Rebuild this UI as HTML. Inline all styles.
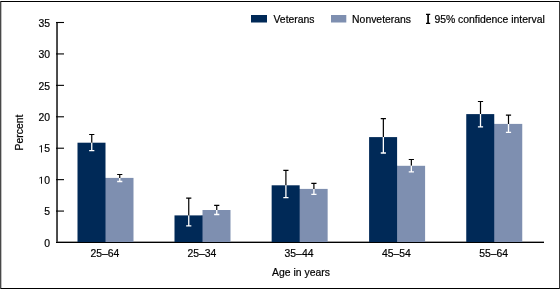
<!DOCTYPE html>
<html><head><meta charset="utf-8"><style>
html,body{margin:0;padding:0;background:#fff;width:560px;height:290px;overflow:hidden}
svg{display:block;will-change:transform}
text{font-family:"Liberation Sans",sans-serif;font-size:10.4px;fill:#000;stroke:#000;stroke-width:0.2px}
</style></head><body>
<svg width="560" height="290" viewBox="0 0 560 290">
<rect x="0" y="1" width="560" height="1" fill="#000" shape-rendering="crispEdges"/>
<rect x="0" y="288" width="560" height="1" fill="#000" shape-rendering="crispEdges"/>
<rect x="0" y="1" width="1" height="288" fill="#484848" shape-rendering="crispEdges"/>
<rect x="1" y="2" width="1" height="286" fill="#c0c0c0" shape-rendering="crispEdges"/>
<rect x="559" y="1" width="1" height="288" fill="#383838" shape-rendering="crispEdges"/>
<rect x="56" y="241" width="488" height="1" fill="#a0a0a0" shape-rendering="crispEdges"/>
<rect x="105.50" y="177.90" width="28.0" height="64.10" fill="#7e8fb0"/>
<rect x="104.50" y="177.90" width="1.5" height="64.10" fill="#7e8fb0"/>
<rect x="77.50" y="142.70" width="28.0" height="99.30" fill="#002957"/>
<rect x="202.50" y="210.00" width="28.0" height="32.00" fill="#7e8fb0"/>
<rect x="201.50" y="215.40" width="1.5" height="26.60" fill="#7e8fb0"/>
<rect x="174.50" y="215.40" width="28.0" height="26.60" fill="#002957"/>
<rect x="299.65" y="188.90" width="28.0" height="53.10" fill="#7e8fb0"/>
<rect x="298.65" y="188.90" width="1.5" height="53.10" fill="#7e8fb0"/>
<rect x="271.65" y="185.30" width="28.0" height="56.70" fill="#002957"/>
<rect x="397.10" y="165.80" width="28.0" height="76.20" fill="#7e8fb0"/>
<rect x="396.10" y="165.80" width="1.5" height="76.20" fill="#7e8fb0"/>
<rect x="369.10" y="137.10" width="28.0" height="104.90" fill="#002957"/>
<rect x="494.25" y="123.90" width="28.0" height="118.10" fill="#7e8fb0"/>
<rect x="493.25" y="123.90" width="1.5" height="118.10" fill="#7e8fb0"/>
<rect x="466.25" y="114.10" width="28.0" height="127.90" fill="#002957"/>
<path d="M91.75 134.50V142.70M89.15 134.50H94.35" stroke="#000" stroke-width="1.2" fill="none"/>
<path d="M91.75 142.70V150.60M89.15 150.60H94.35" stroke="#fff" stroke-width="1.3" fill="none"/>
<path d="M119.75 174.50V177.90M117.15 174.50H122.35" stroke="#000" stroke-width="1.2" fill="none"/>
<path d="M119.75 177.90V181.50M117.15 181.50H122.35" stroke="#fff" stroke-width="1.3" fill="none"/>
<path d="M188.75 198.20V215.40M186.15 198.20H191.35" stroke="#000" stroke-width="1.2" fill="none"/>
<path d="M188.75 215.40V225.90M186.15 225.90H191.35" stroke="#fff" stroke-width="1.3" fill="none"/>
<path d="M216.75 205.40V210.00M214.15 205.40H219.35" stroke="#000" stroke-width="1.2" fill="none"/>
<path d="M216.75 210.00V214.50M214.15 214.50H219.35" stroke="#fff" stroke-width="1.3" fill="none"/>
<path d="M285.90 170.40V185.30M283.30 170.40H288.50" stroke="#000" stroke-width="1.2" fill="none"/>
<path d="M285.90 185.30V197.60M283.30 197.60H288.50" stroke="#fff" stroke-width="1.3" fill="none"/>
<path d="M313.90 183.40V188.90M311.30 183.40H316.50" stroke="#000" stroke-width="1.2" fill="none"/>
<path d="M313.90 188.90V194.30M311.30 194.30H316.50" stroke="#fff" stroke-width="1.3" fill="none"/>
<path d="M383.35 118.60V137.10M380.75 118.60H385.95" stroke="#000" stroke-width="1.2" fill="none"/>
<path d="M383.35 137.10V153.00M380.75 153.00H385.95" stroke="#fff" stroke-width="1.3" fill="none"/>
<path d="M411.35 159.50V165.80M408.75 159.50H413.95" stroke="#000" stroke-width="1.2" fill="none"/>
<path d="M411.35 165.80V171.90M408.75 171.90H413.95" stroke="#fff" stroke-width="1.3" fill="none"/>
<path d="M480.50 101.50V114.10M477.90 101.50H483.10" stroke="#000" stroke-width="1.2" fill="none"/>
<path d="M480.50 114.10V126.80M477.90 126.80H483.10" stroke="#fff" stroke-width="1.3" fill="none"/>
<path d="M508.50 115.20V123.90M505.90 115.20H511.10" stroke="#000" stroke-width="1.2" fill="none"/>
<path d="M508.50 123.90V132.30M505.90 132.30H511.10" stroke="#fff" stroke-width="1.3" fill="none"/>
<rect x="56" y="22" width="1" height="221" fill="#505050" shape-rendering="crispEdges"/>
<rect x="57" y="22" width="1" height="221" fill="#484848" shape-rendering="crispEdges"/>
<rect x="56" y="242" width="488" height="1" fill="#000" shape-rendering="crispEdges"/>
<g transform="translate(50,246.70)"><text x="0" y="0" text-anchor="end">0</text></g>
<line x1="56" y1="211.071" x2="64" y2="211.071" stroke="#000" stroke-width="1.1"/>
<g transform="translate(50,215.27)"><text x="0" y="0" text-anchor="end">5</text></g>
<line x1="56" y1="179.643" x2="64" y2="179.643" stroke="#000" stroke-width="1.1"/>
<g transform="translate(50,183.84)"><path transform="translate(-11.568,0) scale(0.005078,-0.005078)" d="M515 0V1237L197 1010V1180L530 1409H696V0Z" fill="#000"/><text x="0" y="0" text-anchor="end">0</text></g>
<line x1="56" y1="148.214" x2="64" y2="148.214" stroke="#000" stroke-width="1.1"/>
<g transform="translate(50,152.41)"><path transform="translate(-11.568,0) scale(0.005078,-0.005078)" d="M515 0V1237L197 1010V1180L530 1409H696V0Z" fill="#000"/><text x="0" y="0" text-anchor="end">5</text></g>
<line x1="56" y1="116.786" x2="64" y2="116.786" stroke="#000" stroke-width="1.1"/>
<g transform="translate(50,120.99)"><text x="0" y="0" text-anchor="end">20</text></g>
<line x1="56" y1="85.357" x2="64" y2="85.357" stroke="#000" stroke-width="1.1"/>
<g transform="translate(50,89.56)"><text x="0" y="0" text-anchor="end">25</text></g>
<line x1="56" y1="53.929" x2="64" y2="53.929" stroke="#000" stroke-width="1.1"/>
<g transform="translate(50,58.13)"><text x="0" y="0" text-anchor="end">30</text></g>
<line x1="56" y1="22.500" x2="64" y2="22.500" stroke="#000" stroke-width="1.1"/>
<g transform="translate(50,26.70)"><text x="0" y="0" text-anchor="end">35</text></g>
<text x="104.85" y="257.3" text-anchor="middle">25–64</text>
<text x="201.85" y="257.3" text-anchor="middle">25–34</text>
<text x="299.00" y="257.3" text-anchor="middle">35–44</text>
<text x="396.45" y="257.3" text-anchor="middle">45–54</text>
<text x="493.60" y="257.3" text-anchor="middle">55–64</text>
<text x="301" y="275.5" text-anchor="middle">Age in years</text>
<text transform="translate(22.8,132.5) rotate(-90)" text-anchor="middle">Percent</text>
<rect x="251" y="15" width="16" height="7.5" fill="#002957"/>
<text x="273.5" y="22.6">Veterans</text>
<rect x="331" y="15" width="15.3" height="7.5" fill="#7e8fb0"/>
<text x="352.1" y="22.6">Nonveterans</text>
<path d="M426 14.4h4.2M428.1 14.4v9M426 23.4h4.2" stroke="#000" stroke-width="1.1" fill="none"/><path d="M428.1 14.4v9" stroke="#000" stroke-width="1.35"/>
<text x="434.4" y="22.6">95% confidence interval</text>
</svg>
</body></html>
